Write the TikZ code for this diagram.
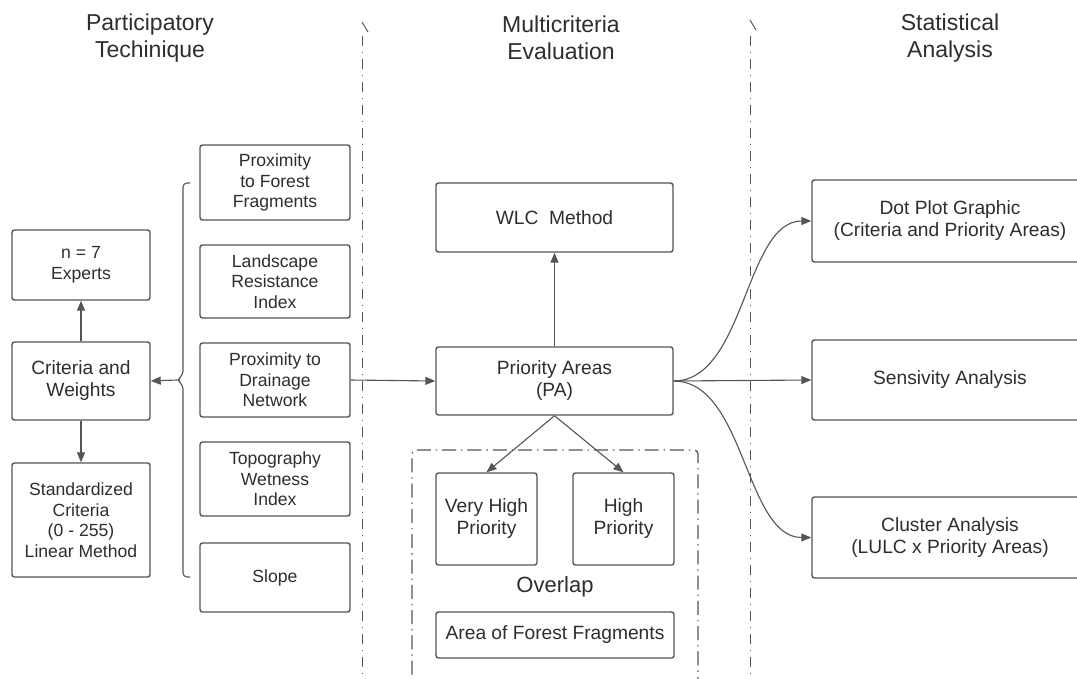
\documentclass[tikz,border=0pt]{standalone}
\usepackage{fontspec}
\setmainfont{Liberation Sans}
\usetikzlibrary{arrows.meta}
\definecolor{linegray}{HTML}{555555}
\definecolor{textgray}{HTML}{2E2E2E}
\newcommand{\leftsize}{\fontsize{17.6}{20.5}\selectfont}
\newcommand{\midsize}{\fontsize{19.2}{22}\selectfont}
\newcommand{\titlesize}{\fontsize{23}{26.5}\selectfont}
\tikzset{
  box/.style={draw=linegray, line width=1.4pt, rounded corners=2.5pt, align=center, text=textgray, inner sep=0pt},
  link/.style={draw=linegray, line width=1.1pt, -{Triangle[length=10pt,width=8pt]}},
  divider/.style={draw=linegray, line width=0.9pt, dash pattern=on 10pt off 6pt on 1pt off 6pt},
  title/.style={align=center, text=textgray, font=\titlesize}
}
\begin{document}
\begin{tikzpicture}[x=1pt,y=-1pt]
  \useasboundingbox (0,0) rectangle (1077,678);
  \clip (0,0) rectangle (1077,678);
  \fill[white] (0,0) rectangle (1077,678);

  \node[title] (ttlpart) at (150,38) {Participatory\\Techinique};
  \node[title] (ttlmce) at (561,38) {Multicriteria\\Evaluation};
  \node[title] (ttlstat) at (950,38) {Statistical\\Analysis};

  \draw[divider] (362,36) -- (362,678);
  \draw[linegray, line width=1pt] (362,22) -- (368,32);
  \draw[divider] (750,36) -- (750,678);
  \draw[linegray, line width=1pt] (750,20) -- (756,30);

  \node[box, minimum width=138pt, minimum height=70pt, font=\leftsize] (experts) at (81,265) {n = 7\\Experts};
  \node[box, minimum width=138pt, minimum height=78pt, font=\midsize] (critw) at (81,381) {Criteria and\\Weights};
  \node[box, minimum width=138pt, minimum height=114pt, font=\leftsize] (stdcrit) at (81,520) {Standardized\\Criteria\\(0 - 255)\\Linear Method};

  \node[box, minimum width=150pt, minimum height=75pt, font=\leftsize] (forest) at (275,182.5) {Proximity\\to Forest\\Fragments};
  \node[box, minimum width=150pt, minimum height=73pt, font=\leftsize] (landres) at (275,281.5) {Landscape\\Resistance\\Index};
  \node[box, minimum width=150pt, minimum height=74pt, font=\leftsize] (drainage) at (275,380) {Proximity to\\Drainage\\Network};
  \node[box, minimum width=150pt, minimum height=74pt, font=\leftsize] (twi) at (275,479) {Topography\\Wetness\\Index};
  \node[box, minimum width=150pt, minimum height=69pt, font=\leftsize] (slope) at (275,577.5) {Slope};

  \draw[linegray, line width=1.1pt, rounded corners=4pt] (190,183) -- (183,183) -- (183,375) -- (177,380) -- (183,385) -- (183,577) -- (190,577);
  \coordinate (bracetip) at (177,380);

  \node[box, minimum width=237pt, minimum height=69pt, font=\midsize] (wlc) at (554.5,217.5) {WLC\ \ Method};
  \node[box, minimum width=237pt, minimum height=68pt, font=\midsize] (pa) at (554.5,381) {Priority Areas\\(PA)};

  \draw[linegray, line width=1.3pt, rounded corners=4pt, dash pattern=on 14pt off 5pt on 1.3pt off 5pt] (412,700) -- (412,450) -- (698,450) -- (698,700);
  \node[box, minimum width=101pt, minimum height=92pt, font=\midsize] (vhp) at (486.5,519) {Very High\\Priority};
  \node[box, minimum width=101pt, minimum height=92pt, font=\midsize] (hp) at (623.5,519) {High\\Priority};
  \node[text=textgray, font=\fontsize{22}{26}\selectfont] (overlap) at (555,587) {Overlap};
  \node[box, minimum width=238pt, minimum height=46pt, font=\midsize] (aff) at (555,635) {Area of Forest Fragments};

  \node[box, minimum width=276pt, minimum height=82pt, font=\midsize] (dotplot) at (950,221) {Dot Plot Graphic\\(Criteria and Priority Areas)};
  \node[box, minimum width=276pt, minimum height=80pt, font=\midsize] (sens) at (950,380) {Sensivity Analysis};
  \node[box, minimum width=276pt, minimum height=81pt, font=\midsize] (cluster) at (950,537.5) {Cluster Analysis\\(LULC x Priority Areas)};

  \draw[link] (critw.north) -- (experts.south);
  \draw[link] (critw.south) -- (stdcrit.north);
  \draw[link] (bracetip) -- (critw.east);
  \draw[link] (drainage.east) -- (pa.west);
  \draw[link] (pa.north) -- (wlc.south);
  \draw[link] (pa.south) -- (vhp.north);
  \draw[link] (pa.south) -- (hp.north);
  \draw[link] (pa.east) .. controls (745,381) and (745,221) .. (dotplot.west);
  \draw[link] (pa.east) -- (sens.west);
  \draw[link] (pa.east) .. controls (745,381) and (745,537.5) .. (cluster.west);
\end{tikzpicture}
\end{document}
